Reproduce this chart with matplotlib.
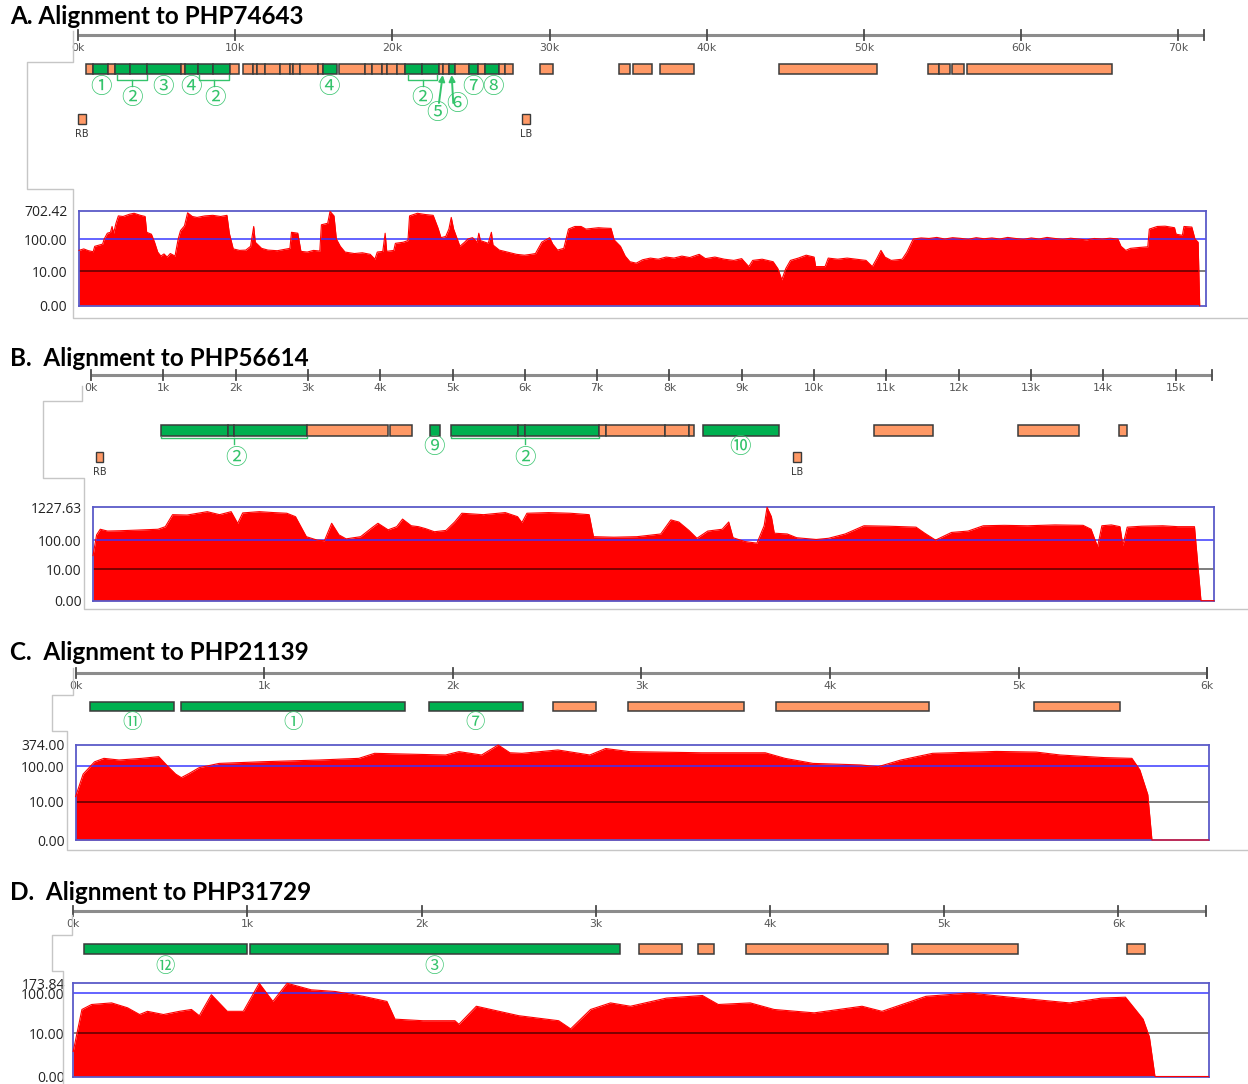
import matplotlib
matplotlib.use("Agg")
import matplotlib.pyplot as plt
import numpy as np
from matplotlib.lines import Line2D
from matplotlib.patches import Rectangle

# ---------------------------------------------------------------------------
# data: positions in kb, coverage in reads; gene kind "g" = green, "o" = orange
# ---------------------------------------------------------------------------
A_TITLE = "A. Alignment to PHP74643"
A_LENGTH = 71.6
A_TICKS = [0, 10, 20, 30, 40, 50, 60, 70]
A_GENES = [
    (0.51, 0.95, "o"), (0.95, 1.93, "g"), (1.93, 2.35, "o"), (2.35, 3.31, "g"),
    (3.31, 4.39, "g"), (4.39, 6.55, "g"), (6.55, 6.81, "o"), (6.81, 7.65, "g"),
    (7.65, 8.59, "g"), (8.59, 9.67, "g"), (9.67, 10.26, "o"),
    (10.48, 11.15, "o"), (11.15, 11.37, "o"), (11.37, 11.90, "o"), (11.90, 12.85, "o"),
    (12.85, 13.49, "o"), (13.49, 13.70, "o"), (13.70, 14.12, "o"), (14.12, 15.29, "o"),
    (15.29, 15.60, "o"), (15.60, 16.46, "g"),
    (16.60, 18.26, "o"), (18.26, 18.68, "o"), (18.68, 19.32, "o"), (19.32, 19.63, "o"),
    (19.63, 20.27, "o"), (20.27, 20.80, "o"), (20.80, 21.88, "g"), (21.88, 22.96, "g"),
    (22.96, 23.22, "o"), (23.22, 23.60, "o"), (23.60, 23.98, "g"), (23.98, 24.87, "o"),
    (24.87, 25.45, "g"), (25.45, 25.92, "o"), (25.92, 26.78, "g"), (26.78, 27.16, "o"),
    (27.16, 27.67, "o"),
    (29.39, 30.20, "o"), (34.43, 35.11, "o"), (35.33, 36.49, "o"), (37.04, 39.19, "o"),
    (44.61, 50.80, "o"), (54.09, 54.79, "o"), (54.79, 55.47, "o"), (55.58, 56.36, "o"),
    (56.53, 65.80, "o"),
]
A_BORDERS = [(0.0, 0.51, "RB"), (28.26, 28.75, "LB")]
A_NOTES = ["①", "②", "③", "④", "②", "④", "②", "⑤", "⑥", "⑦", "⑧"]
A_NOTE_KB = [1.46, 3.41, 5.43, 7.19, 8.71, 15.99, 21.86, 22.86, 24.09, 25.11, 26.38]
A_NOTE_ROW = [0, 1, 0, 0, 1, 0, 1, 3, 2, 0, 0]
A_BRACKETS = [(2.46, 4.37), (7.72, 9.63), (21.01, 22.82)]
A_ARROWS = [(22.96, 23.20), (23.87, 23.77)]   # (tail kb, tip kb) for 5 and 6
A_COVERAGE = [
    (0.0, 45), (0.3, 50), (0.6, 44), (0.9, 41), (1.0, 60), (1.3, 66), (1.5, 70),
    (1.6, 100), (1.8, 150), (2.0, 160), (2.1, 240), (2.2, 150), (2.35, 300),
    (2.5, 500), (2.8, 480), (3.2, 560), (3.5, 600), (3.9, 520), (4.2, 480),
    (4.3, 160), (4.6, 140), (4.8, 80), (5.0, 40), (5.2, 30), (5.4, 35), (5.6, 28),
    (5.8, 36), (6.1, 30), (6.3, 100), (6.45, 180), (6.7, 250), (6.9, 620),
    (7.2, 480), (7.5, 450), (8.0, 500), (8.5, 520), (9.0, 480), (9.4, 520),
    (9.55, 150), (9.8, 50), (10.2, 45), (10.6, 46), (10.9, 60), (11.1, 240),
    (11.2, 80), (11.6, 52), (12.0, 46), (12.6, 44), (13.0, 48), (13.4, 52),
    (13.5, 160), (13.9, 150), (14.1, 42), (14.5, 40), (14.9, 45), (15.3, 43),
    (15.4, 270), (15.8, 300), (15.95, 680), (16.2, 500), (16.35, 100), (16.6, 60),
    (16.9, 40), (17.5, 36), (18.0, 38), (18.5, 34), (18.8, 24), (18.95, 40),
    (19.3, 42), (19.45, 150), (19.55, 42), (20.0, 45), (20.1, 74), (20.6, 80),
    (20.9, 90), (21.0, 500), (21.5, 600), (22.0, 550), (22.5, 520), (22.8, 220),
    (23.0, 110), (23.3, 120), (23.5, 200), (23.65, 450), (23.8, 200), (24.0, 110),
    (24.2, 60), (24.5, 80), (24.7, 100), (25.0, 110), (25.3, 80), (25.4, 150),
    (25.5, 90), (26.0, 74), (26.2, 160), (26.3, 66), (26.7, 46), (27.2, 40),
    (27.8, 34), (28.3, 32), (28.7, 34), (29.0, 36), (29.4, 80), (29.9, 110),
    (30.1, 70), (30.4, 46), (30.8, 52), (31.1, 200), (31.5, 240), (31.9, 240),
    (32.2, 200), (32.6, 210), (33.0, 220), (33.3, 215), (33.8, 210), (34.0, 94),
    (34.4, 60), (34.7, 30), (35.0, 20), (35.4, 18), (35.8, 23), (36.3, 26),
    (36.8, 24), (37.3, 28), (37.8, 26), (38.3, 30), (38.8, 27), (39.4, 34),
    (39.8, 25), (40.4, 28), (41.0, 24), (41.6, 22), (42.1, 25), (42.55, 14),
    (42.8, 22), (43.4, 24), (44.1, 20), (44.4, 12), (44.65, 5), (44.9, 12),
    (45.2, 22), (45.7, 26), (46.2, 32), (46.7, 28), (46.8, 14), (47.4, 14),
    (47.6, 26), (48.2, 24), (48.8, 26), (49.4, 24), (50.0, 22), (50.4, 14),
    (50.7, 26), (50.95, 45), (51.2, 28), (51.6, 22), (52.3, 24), (52.6, 40),
    (53.0, 100), (53.5, 108), (54.0, 104), (54.5, 112), (55.0, 100), (55.5, 110),
    (56.0, 105), (56.5, 98), (57.0, 110), (57.5, 102), (58.0, 108), (58.5, 100),
    (59.0, 112), (59.5, 104), (60.0, 98), (60.5, 108), (61.0, 100), (61.5, 112),
    (62.0, 104), (62.5, 98), (63.0, 106), (63.5, 100), (64.0, 94), (64.5, 104),
    (65.0, 100), (65.5, 106), (66.0, 100), (66.2, 60), (66.5, 45), (66.8, 52),
    (67.3, 55), (67.9, 58), (68.0, 200), (68.5, 240), (69.0, 245), (69.6, 220),
    (69.7, 140), (70.1, 130), (70.2, 240), (70.7, 230), (70.9, 100), (71.1, 80),
    (71.2, 0),
]
A_MAX = 702.42

B_TITLE = "B.  Alignment to PHP56614"
B_LENGTH = 15.5
B_TICKS = list(range(0, 16))
B_GENES = [
    (0.967, 1.895, "g"), (1.895, 1.983, "g"), (1.983, 2.989, "g"), (2.989, 4.109, "o"),
    (4.136, 4.444, "o"), (4.683, 4.827, "g"), (4.974, 5.903, "g"), (5.903, 5.996, "g"),
    (5.996, 7.024, "g"), (7.024, 7.126, "o"), (7.126, 7.938, "o"), (7.938, 8.268, "o"),
    (8.268, 8.343, "o"), (8.469, 9.515, "g"), (10.83, 11.64, "o"), (12.82, 13.66, "o"),
    (14.22, 14.33, "o"),
]
B_BORDERS = [(0.07, 0.16, "RB"), (9.71, 9.82, "LB")]
B_NOTES = ["②", "⑨", "②", "⑩"]
B_NOTE_KB = [2.0, 4.74, 6.0, 8.98]
B_NOTE_ROW = [1, 0, 1, 0]
B_BRACKETS = [(0.967, 2.989), (4.974, 7.024)]
B_COVERAGE = [
    (0.0, 30), (0.05, 150), (0.1, 230), (0.2, 200), (0.37, 205), (0.6, 215),
    (0.9, 230), (1.0, 280), (1.1, 700), (1.3, 680), (1.58, 880), (1.75, 700),
    (1.91, 880), (2.0, 360), (2.07, 800), (2.3, 880), (2.5, 820), (2.68, 780),
    (2.8, 600), (2.95, 130), (3.1, 100), (3.2, 95), (3.3, 363), (3.4, 150),
    (3.5, 110), (3.7, 130), (3.85, 250), (3.94, 363), (4.08, 220), (4.2, 280),
    (4.28, 500), (4.4, 300), (4.5, 280), (4.6, 240), (4.72, 190), (4.88, 210),
    (5.0, 400), (5.1, 780), (5.4, 700), (5.7, 820), (5.87, 600), (5.93, 380),
    (6.0, 780), (6.3, 820), (6.6, 780), (6.86, 700), (6.92, 130), (7.2, 125),
    (7.52, 130), (7.85, 160), (7.99, 470), (8.1, 400), (8.24, 210), (8.35, 115),
    (8.5, 200), (8.7, 230), (8.79, 400), (8.85, 120), (9.01, 90), (9.18, 79),
    (9.28, 300), (9.32, 1227), (9.38, 600), (9.42, 170), (9.6, 160), (9.73, 120),
    (10.0, 105), (10.17, 115), (10.4, 160), (10.66, 300), (11.0, 290), (11.38, 270),
    (11.5, 170), (11.65, 100), (11.87, 180), (12.1, 200), (12.31, 300), (12.6, 310),
    (12.92, 300), (13.3, 320), (13.69, 310), (13.8, 230), (13.89, 60), (13.95, 300),
    (14.08, 320), (14.2, 280), (14.24, 65), (14.3, 270), (14.5, 290), (14.79, 300),
    (15.0, 280), (15.23, 280), (15.32, 0), (15.5, 0),
]
B_MAX = 1227.63

C_TITLE = "C.  Alignment to PHP21139"
C_LENGTH = 6.0
C_TICKS = [0, 1, 2, 3, 4, 5, 6]
C_GENES = [
    (0.076, 0.52, "g"), (0.561, 1.748, "g"), (1.874, 2.372, "g"), (2.533, 2.761, "o"),
    (2.93, 3.546, "o"), (3.715, 4.525, "o"), (5.083, 5.539, "o"),
]
C_NOTES = ["⑪", "①", "⑦"]
C_NOTE_KB = [0.3, 1.155, 2.12]
C_NOTE_ROW = [0, 0, 0]
C_COVERAGE = [
    (0.0, 14), (0.04, 60), (0.1, 130), (0.15, 162), (0.23, 146), (0.35, 162),
    (0.44, 180), (0.49, 96), (0.53, 60), (0.56, 48), (0.6, 62), (0.654, 90),
    (0.76, 118), (0.99, 131), (1.29, 146), (1.5, 162), (1.583, 222), (1.96, 200),
    (2.03, 247), (2.15, 200), (2.238, 374), (2.3, 230), (2.364, 222), (2.554, 274),
    (2.723, 200), (2.807, 300), (2.934, 247), (3.314, 230), (3.652, 230),
    (3.757, 162), (3.905, 118), (4.159, 107), (4.25, 96), (4.37, 146), (4.538, 222),
    (4.876, 250), (5.087, 240), (5.214, 200), (5.446, 170), (5.594, 162),
    (5.636, 78), (5.678, 16), (5.70, 0), (6.0, 0),
]
C_MAX = 374.00

D_TITLE = "D.  Alignment to PHP31729"
D_LENGTH = 6.5
D_TICKS = [0, 1, 2, 3, 4, 5, 6]
D_GENES = [
    (0.06, 0.997, "g"), (1.015, 3.14, "g"), (3.25, 3.497, "o"), (3.584, 3.68, "o"),
    (3.862, 4.676, "o"), (4.813, 5.425, "o"), (6.052, 6.152, "o"),
]
D_NOTES = ["⑫", "③"]
D_NOTE_KB = [0.525, 2.07]
D_NOTE_ROW = [0, 0]
D_COVERAGE = [
    (0.0, 3), (0.05, 40), (0.105, 53), (0.22, 58), (0.311, 44), (0.38, 30),
    (0.425, 36), (0.517, 30), (0.608, 36), (0.677, 40), (0.722, 28), (0.791, 92),
    (0.882, 36), (0.974, 36), (1.065, 174), (1.143, 63), (1.225, 174), (1.362, 121),
    (1.5, 110), (1.66, 84), (1.796, 63), (1.842, 23), (2.002, 21), (2.185, 21),
    (2.208, 17), (2.308, 48), (2.551, 28), (2.779, 21), (2.848, 13), (2.962, 40),
    (3.076, 58), (3.19, 48), (3.396, 76), (3.602, 88), (3.693, 53), (3.876, 58),
    (4.013, 40), (4.242, 33), (4.516, 48), (4.63, 36), (4.882, 84), (5.133, 101),
    (5.362, 80), (5.704, 58), (5.887, 76), (6.024, 80), (6.125, 23), (6.161, 8),
    (6.193, 0), (6.5, 0),
]
D_MAX = 173.84

# ---------------------------------------------------------------------------
# styling / layout (pixels from top-left of the 1248x1084 canvas)
# ---------------------------------------------------------------------------
W, H = 1248, 1084
COLORS = {"g": "#00b050", "o": "#ff9966"}
EDGE = "#3a3a3a"
NOTE = "#35c46c"
CONNECT = "#c6c6c6"
CJK = ["Noto Sans CJK JP", "DejaVu Sans"]

fig = plt.figure(figsize=(W / 100, H / 100), dpi=100)


def axes_px(left, top, right, bottom):
    return fig.add_axes([left / W, 1 - bottom / H, (right - left) / W, (bottom - top) / H])


def connector(points):
    xs = [p[0] / W for p in points]
    ys = [1 - p[1] / H for p in points]
    fig.add_artist(Line2D(xs, ys, transform=fig.transFigure, color=CONNECT, lw=1))


def fwd(y):
    return np.log10(1 + np.clip(y, 0, None))


def inv(y):
    return 10 ** y - 1


def draw_track(lay, length, ticks, genes, borders=(), notes=(), note_kb=(), note_row=(),
               brackets=(), arrows=()):
    ax = axes_px(lay["left"], lay["top"], lay["right"], lay["bottom"])
    ax.set_xlim(0, length)
    ax.set_ylim(lay["bottom"], lay["top"])
    ax.axis("off")

    # --- ruler ---
    y0 = lay["ruler"]
    ax.plot([0, length], [y0, y0], color="#8c8c8c", lw=2.2, solid_capstyle="butt",
            clip_on=False)
    for t in list(ticks) + [length]:
        ax.plot([t, t], [y0 - 5, y0 + 5], color="#4a4a4a", lw=1.3, clip_on=False)
    for t in ticks:
        ax.text(t, y0 + 13, f"{t}k", ha="center", va="center", fontsize=7.8,
                color="#555555", clip_on=False)

    # --- genes ---
    gy, gh = lay["gene_y"], lay["gene_h"]
    for s, e, kind in genes:
        ax.add_patch(Rectangle((s, gy), e - s, gh, facecolor=COLORS[kind],
                               edgecolor=EDGE, lw=1.1, clip_on=False))

    # --- border sequences ---
    for s, e, name in borders:
        by = lay["border_y"]
        ax.add_patch(Rectangle((s, by), e - s, 10, facecolor=COLORS["o"],
                               edgecolor=EDGE, lw=1, clip_on=False))
        ax.text((s + e) / 2, by + 20, name, ha="center", va="center", fontsize=7,
                color="#333333")

    # --- brackets under grouped genes ---
    bot = gy + gh
    for s, e in brackets:
        yb = bot + lay["bracket_drop"]
        ax.plot([s, s, e, e], [bot + 1, yb, yb, bot + 1], color=NOTE, lw=1)
        ax.plot([(s + e) / 2] * 2, [yb, yb + 6], color=NOTE, lw=1)

    # --- circled labels ---
    for lab, kb, row in zip(notes, note_kb, note_row):
        ax.text(kb, lay["note_rows"][row], lab, family=CJK, fontsize=lay["note_size"],
                color=NOTE, ha="center", va="center")

    for tail, tip in arrows:
        ax.annotate("", xy=(tip, bot + 1), xytext=(tail, bot + lay["arrow_len"]),
                    arrowprops=dict(arrowstyle="-|>", color=NOTE, lw=1.4,
                                    mutation_scale=9, shrinkA=0, shrinkB=0))
    return ax


def draw_coverage(lay, length, coverage, top_val):
    ax = axes_px(lay["left"], lay["top"], lay["right"], lay["bottom"])
    kb = np.array([p[0] for p in coverage])
    cov = np.array([p[1] for p in coverage], dtype=float)
    ax.set_yscale("function", functions=(fwd, inv))
    ax.fill_between(kb, 0, cov, color="#ff0000", lw=0)
    ax.plot(kb, cov, color="#ff0000", lw=0.8, zorder=3, clip_on=False)
    ax.axhline(100, color="#3535ff", lw=1.2, alpha=0.9)
    ax.axhline(10, color="black", lw=1.3, alpha=0.55)
    ax.set_xlim(0, length)
    ax.set_ylim(0, top_val)
    ax.set_xticks([])
    ticks = [0, 10, 100, top_val]
    ax.set_yticks(ticks)
    ax.set_yticklabels([f"{v:.2f}" for v in ticks])
    ax.tick_params(axis="y", length=0, pad=lay["pad"], labelsize=10, labelcolor="#222222")
    for lbl in ax.get_yticklabels():
        lbl.set_family("Open Sans")
    ax.minorticks_off()
    for sp in ax.spines.values():
        sp.set_color("#5a5ac8")
        sp.set_linewidth(1.3)
    return ax


def title(text, y):
    fig.text(10 / W, 1 - y / H, text, ha="left", va="center", fontsize=17.5,
             fontweight="bold", family="Lato", color="black")


# ---------------- panel A ----------------
title(A_TITLE, 16)
draw_track(dict(left=78, right=1203.6, top=25, bottom=145, ruler=35, gene_y=64, gene_h=10,
                border_y=114, bracket_drop=6, note_rows=[87, 97.7, 104.3, 113.3],
                note_size=15.5, arrow_len=29),
           A_LENGTH, A_TICKS, A_GENES, A_BORDERS, A_NOTES, A_NOTE_KB, A_NOTE_ROW,
           A_BRACKETS, A_ARROWS)
draw_coverage(dict(left=79, right=1206, top=211, bottom=305.7, pad=8.5),
              A_LENGTH, A_COVERAGE, A_MAX)
connector([(73.3, 30.6), (73.3, 61.8), (27.3, 61.8), (27.3, 189.3), (73.3, 189.3),
           (73.3, 318), (1248, 318)])

# ---------------- panel B ----------------
title(B_TITLE, 358)
draw_track(dict(left=91, right=1211.7, top=365, bottom=485, ruler=375, gene_y=424.5,
                gene_h=11, border_y=452, bracket_drop=2, note_rows=[446.7, 458.3],
                note_size=15.5, arrow_len=0),
           B_LENGTH, B_TICKS, B_GENES, B_BORDERS, B_NOTES, B_NOTE_KB, B_NOTE_ROW,
           B_BRACKETS)
draw_coverage(dict(left=93, right=1214, top=507.3, bottom=600.7, pad=8),
              B_LENGTH, B_COVERAGE, B_MAX)
connector([(81.7, 386), (81.7, 401), (43.3, 401), (43.3, 478), (84, 478), (84, 609),
           (1248, 609)])

# ---------------- panel C ----------------
title(C_TITLE, 652)
draw_track(dict(left=75.6, right=1207.2, top=662, bottom=735, ruler=672.7, gene_y=702.3,
                gene_h=9, border_y=0, bracket_drop=0, note_rows=[723], note_size=14,
                arrow_len=0),
           C_LENGTH, C_TICKS, C_GENES, (), C_NOTES, C_NOTE_KB, C_NOTE_ROW)
draw_coverage(dict(left=75.6, right=1208.6, top=745, bottom=840, pad=8),
              C_LENGTH, C_COVERAGE, C_MAX)
connector([(72.7, 668), (72.7, 695), (51.7, 695), (51.7, 731), (66.7, 731), (66.7, 850),
           (1248, 850)])

# ---------------- panel D ----------------
title(D_TITLE, 893)
draw_track(dict(left=73.2, right=1205.5, top=900, bottom=975, ruler=910.7, gene_y=943.5,
                gene_h=10.5, border_y=0, bracket_drop=0, note_rows=[967], note_size=14,
                arrow_len=0),
           D_LENGTH, D_TICKS, D_GENES, (), D_NOTES, D_NOTE_KB, D_NOTE_ROW)
draw_coverage(dict(left=73.2, right=1208.6, top=983.3, bottom=1076.5, pad=6),
              D_LENGTH, D_COVERAGE, D_MAX)
connector([(71.7, 915), (71.7, 935), (51.7, 935), (51.7, 971), (63.3, 971),
           (63.3, 1084)])

fig.savefig("out.png", dpi=100)
